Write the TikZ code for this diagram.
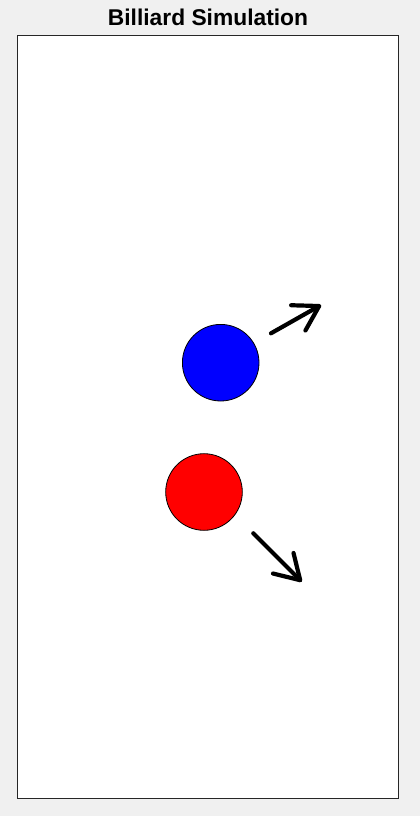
\documentclass[tikz,border=0pt]{standalone}
\usepackage{fontspec}
\setmainfont{Liberation Sans}
\usetikzlibrary{arrows.meta}
\definecolor{figbg}{HTML}{F0F0F0}
\definecolor{axisline}{HTML}{262626}
\begin{document}
\begin{tikzpicture}[
        x=1pt, y=-1pt,
        ball/.style={circle, draw=black, line width=.8pt, minimum size=76.6pt, inner sep=0pt},
        velocity/.style={line width=4.2pt, line cap=round,
            -{Straight Barb[length=24pt, width=29pt, line cap=round, line join=round]}},
    ]
    \useasboundingbox (0,0) rectangle (420,816);
    \fill[figbg] (0,0) rectangle (420,816);

    % axes
    \draw[axisline, fill=white, line width=1pt] (17.3,36) rectangle (398.7,798);
    \node[font=\bfseries\fontsize{22.8}{27}\selectfont, anchor=base] (title) at (208,26) {Billiard Simulation};

    % balls
    \node[ball, fill=blue] (blueball) at (220.7,362.7) {};
    \node[ball, fill=red] (redball) at (204,492) {};

    % velocities
    \coordinate (bluetail) at (271,333.3);
    \coordinate (bluetip) at (321,305);
    \coordinate (redtail) at (253.3,533.3);
    \coordinate (redtip) at (301.7,581.7);
    \draw[velocity] (bluetail) -- (bluetip);
    \draw[velocity] (redtail) -- (redtip);

\end{tikzpicture}
\end{document}
